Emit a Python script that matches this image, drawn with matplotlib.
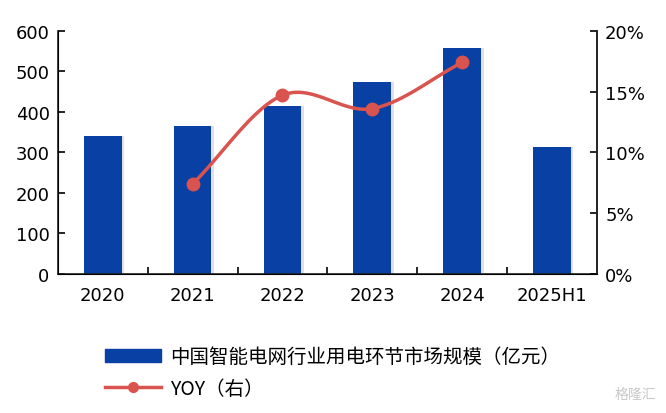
import numpy as np
import matplotlib
matplotlib.use("Agg")
import matplotlib.pyplot as plt
from matplotlib.lines import Line2D
from matplotlib.patches import Patch

plt.rcParams['font.family'] = ['Noto Sans CJK SC', 'DejaVu Sans']

years = ["2020", "2021", "2022", "2023", "2024", "2025H1"]
market = [340, 365, 415, 475, 557, 313]
yoy_years = [1, 2, 3, 4]
yoy = [7.4, 14.7, 13.6, 17.4]

bar_color = "#0840A3"
line_color = "#D9534F"
tick_font = ['DejaVu Sans']


def smooth(xs, ys, n=30):
    # catmull-rom through the points, just for drawing
    xs = np.asarray(xs, float); ys = np.asarray(ys, float)
    px = np.concatenate([[2*xs[0]-xs[1]], xs, [2*xs[-1]-xs[-2]]])
    py = np.concatenate([[2*ys[0]-ys[1]], ys, [2*ys[-1]-ys[-2]]])
    ox, oy = [], []
    for i in range(1, len(px) - 2):
        t = np.linspace(0, 1, n)
        for arr, out in ((px, ox), (py, oy)):
            p0, p1, p2, p3 = arr[i-1], arr[i], arr[i+1], arr[i+2]
            out.extend(0.5 * ((2*p1) + (-p0+p2)*t + (2*p0-5*p1+4*p2-p3)*t**2 + (-p0+3*p1-3*p2+p3)*t**3))
    return ox, oy


fig = plt.figure(figsize=(6.66, 4.14), dpi=100)
ax = fig.add_axes([0.087, 0.336, 0.809, 0.587])
x = np.arange(len(years))
# faint shadow behind the bars
ax.bar(x + 0.03, market, width=0.42, color="#999999", alpha=0.3, zorder=1)
ax.bar(x, market, width=0.42, color=bar_color, zorder=2)
ax.set_xlim(-0.5, len(years) - 0.5)
ax.set_ylim(0, 600)
ax.set_yticks(range(0, 601, 100))
ax.set_xticks(x)
ax.set_xticklabels(years, family=tick_font)
ax.set_yticklabels([str(v) for v in range(0, 601, 100)], family=tick_font)
ax.set_xticks(np.arange(0.5, len(years) - 1, 1), minor=True)
ax.tick_params(axis='x', which='major', length=0, labelsize=13, pad=9)
ax.tick_params(axis='x', which='minor', direction='in', length=5, width=1.2)
ax.tick_params(axis='y', direction='in', length=5, width=1.2, labelsize=13, pad=6)
ax.spines['top'].set_visible(False)
for s in ['left', 'bottom', 'right']:
    ax.spines[s].set_linewidth(1.2)
    ax.spines[s].set_color("#222222")

ax2 = ax.twinx()
ax2.set_ylim(0, 20)
ax2.set_yticks(range(0, 21, 5))
ax2.set_yticklabels([f"{v}%" for v in range(0, 21, 5)], family=tick_font)
ax2.tick_params(axis='y', direction='in', length=5, width=1.2, labelsize=13, pad=6)
ax2.spines['top'].set_visible(False)
ax2.spines['right'].set_linewidth(1.2)
ax2.spines['right'].set_color("#222222")
sx, sy = smooth(yoy_years, yoy)
ax2.plot(sx, sy, color=line_color, lw=2.5, zorder=3)
ax2.plot(yoy_years, yoy, 'o', color=line_color, ms=9, zorder=4)

handles = [Patch(color=bar_color),
           Line2D([0], [0], color=line_color, lw=2.5, marker='o', ms=7)]
labels = ["中国智能电网行业用电环节市场规模（亿元）", "YOY（右）"]
fig.legend(handles, labels, loc='upper left', bbox_to_anchor=(0.146, 0.18),
           frameon=False, fontsize=14, handlelength=2.9, handleheight=0.6,
           handletextpad=0.45, labelspacing=0.55, borderaxespad=0)

fig.text(0.985, 0.03, "格隆汇", ha='right', va='bottom', fontsize=10, color="#c8c8c8")

fig.savefig("out.png", dpi=100)
